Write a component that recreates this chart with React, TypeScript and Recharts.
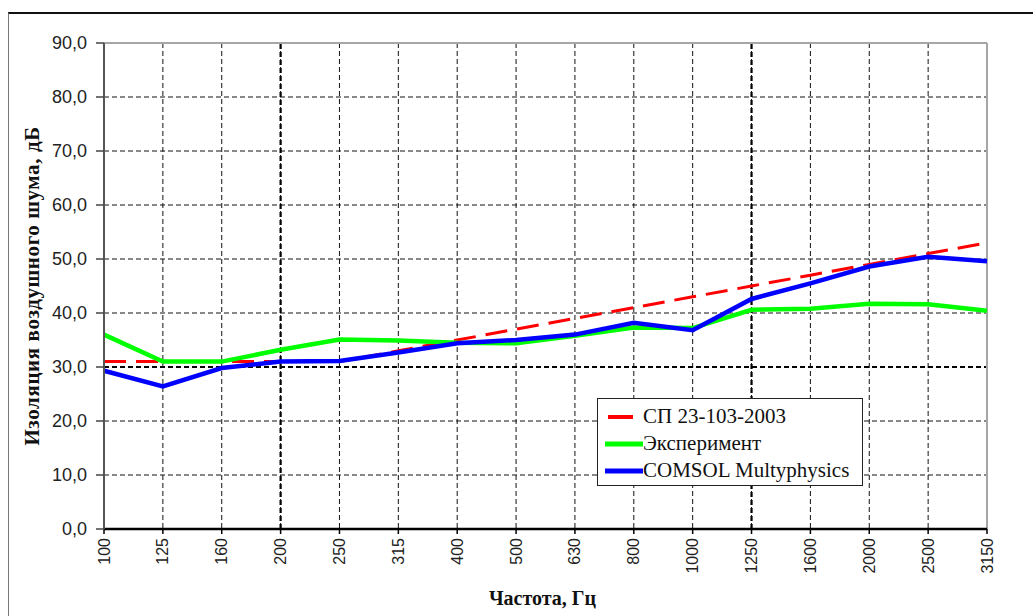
import {
  CartesianGrid,
  Label,
  Legend,
  Line,
  LineChart,
  ReferenceLine,
  XAxis,
  YAxis,
} from "recharts";

const freqs = [
  "100", "125", "160", "200", "250", "315", "400", "500",
  "630", "800", "1000", "1250", "1600", "2000", "2500", "3150",
];
const normSP = [31, 31, 31, 31, 31, 33, 35, 37, 39, 41, 43, 45, 47, 49, 51, 53];
const experiment = [36.0, 31.0, 31.0, 33.2, 35.1, 34.9, 34.5, 34.4, 35.8, 37.3, 37.2, 40.6, 40.8, 41.7, 41.6, 40.4];
const comsol = [29.3, 26.4, 29.8, 31.0, 31.1, 32.7, 34.4, 35.0, 36.0, 38.2, 36.8, 42.6, 45.5, 48.6, 50.4, 49.6];
const yTicks = [0, 10, 20, 30, 40, 50, 60, 70, 80, 90];

const legendItems = [
  { name: "СП 23-103-2003", color: "#ff0000", dashed: true },
  { name: "Эксперимент", color: "#00ff00", dashed: false },
  { name: "COMSOL Multyphysics", color: "#0000ff", dashed: false },
];

const data = freqs.map((f, i) => ({
  freq: f,
  sp: normSP[i],
  exp: experiment[i],
  comsol: comsol[i],
}));

const fmt = (v: number) => v.toFixed(1).replace(".", ",");

const serif = "'Liberation Serif', 'Times New Roman', serif";

const FreqTick = ({ x, y, payload }: any) => (
  <text
    x={x}
    y={y}
    transform={`rotate(-90, ${x}, ${y})`}
    textAnchor="end"
    dominantBaseline="central"
    fontFamily="'Liberation Sans', Arial, sans-serif"
    fontSize={16}
    fill="#222"
  >
    {payload.value}
  </text>
);

const YTitle = ({ viewBox }: any) => {
  const cy = viewBox ? viewBox.y + viewBox.height / 2 : 278;
  return (
    <text
      x={24}
      y={cy}
      transform={`rotate(-90, 24, ${cy})`}
      textAnchor="middle"
      dominantBaseline="central"
      fontFamily={serif}
      fontWeight="bold"
      fontSize={21}
      letterSpacing={0.6}
      fill="#111"
    >
      Изоляция воздушного шума, дБ
    </text>
  );
};

const XTitle = ({ viewBox }: any) => {
  const cx = viewBox ? viewBox.x + viewBox.width / 2 - 3 : 534;
  const cy = viewBox ? viewBox.y + 69 : 590;
  return (
    <text
      x={cx}
      y={cy}
      textAnchor="middle"
      dominantBaseline="central"
      fontFamily={serif}
      fontWeight="bold"
      fontSize={20}
      fill="#111"
    >
      Частота, Гц
    </text>
  );
};

const LegendBox = () => (
  <div
    style={{
      width: 266,
      height: 88,
      border: "1.5px solid #222",
      background: "#fff",
      paddingTop: 4,
      boxSizing: "border-box",
      fontFamily: serif,
      fontSize: 21,
      color: "#111",
    }}
  >
    {legendItems.map((it) => (
      <div
        key={it.name}
        style={{ height: 27, display: "flex", alignItems: "center" }}
      >
        <svg width={45} height={10} style={{ flex: "none" }}>
          {it.dashed ? (
            <line x1={10} y1={5} x2={35} y2={5} stroke={it.color} strokeWidth={4} />
          ) : (
            <line x1={7} y1={5} x2={45} y2={5} stroke={it.color} strokeWidth={5} />
          )}
        </svg>
        <span style={{ whiteSpace: "nowrap" }}>{it.name}</span>
      </div>
    ))}
  </div>
);

export default function App() {
  return (
    <div
      style={{
        position: "absolute",
        left: 8,
        top: 8,
        width: 1025,
        height: 608,
        overflow: "hidden",
        background: "#fff",
      }}
    >
      <div
        style={{
          position: "absolute",
          left: 0,
          top: 4,
          width: 1100,
          height: 700,
          borderTop: "2px solid #111",
          borderLeft: "1.5px solid #777",
        }}
      />
      <LineChart
        width={1025}
        height={608}
        data={data}
        margin={{ top: 35, right: 46, left: 36, bottom: 37 }}
      >
        <CartesianGrid stroke="#111" strokeDasharray="5 3" />
        <ReferenceLine x="200" stroke="#000" strokeWidth={2.2} strokeDasharray="5 3" />
        <ReferenceLine x="1250" stroke="#000" strokeWidth={2.2} strokeDasharray="5 3" />
        <ReferenceLine y={30} stroke="#000" strokeWidth={2.2} strokeDasharray="5 3" />
        <ReferenceLine y={90} stroke="#a6a6a6" strokeWidth={2} />
        <ReferenceLine x="3150" stroke="#a6a6a6" strokeWidth={2} />
        <XAxis
          dataKey="freq"
          interval={0}
          tickSize={5}
          tickMargin={4}
          height={50}
          tick={<FreqTick />}
          tickLine={{ stroke: "#000", strokeWidth: 1.5 }}
          axisLine={{ stroke: "#000", strokeWidth: 2.5 }}
        >
          <Label content={<XTitle />} />
        </XAxis>
        <YAxis
          width={60}
          domain={[0, 90]}
          ticks={yTicks}
          tickFormatter={fmt}
          tickSize={8}
          tickMargin={9}
          tick={{
            fontSize: 18,
            fontFamily: "'Liberation Sans', Arial, sans-serif",
            fill: "#222",
          }}
          tickLine={{ stroke: "#444", strokeWidth: 1.5 }}
          axisLine={{ stroke: "#555", strokeWidth: 2 }}
        >
          <Label content={<YTitle />} />
        </YAxis>
        <Line
          type="linear"
          dataKey="sp"
          name="СП 23-103-2003"
          stroke="#ff0000"
          strokeWidth={3}
          strokeDasharray="22 10"
          dot={false}
          activeDot={false}
          isAnimationActive={false}
        />
        <Line
          type="linear"
          dataKey="exp"
          name="Эксперимент"
          stroke="#00ff00"
          strokeWidth={4.5}
          dot={false}
          activeDot={false}
          isAnimationActive={false}
        />
        <Line
          type="linear"
          dataKey="comsol"
          name="COMSOL Multyphysics"
          stroke="#0000ff"
          strokeWidth={4.5}
          dot={false}
          activeDot={false}
          isAnimationActive={false}
        />
        <Legend
          layout="vertical"
          align="center"
          verticalAlign="middle"
          content={<LegendBox />}
          wrapperStyle={{ left: 589, top: 390, width: 266 }}
        />
      </LineChart>
    </div>
  );
}
